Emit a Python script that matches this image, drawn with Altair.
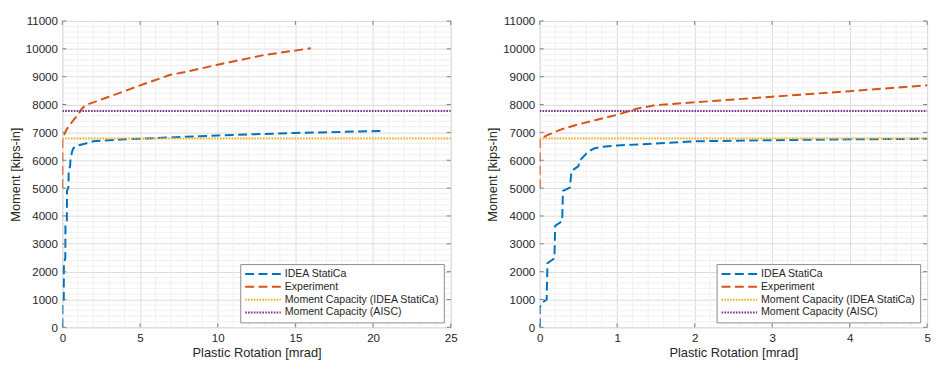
import altair as alt
import pandas as pd

series_names = ["IDEA StatiCa", "Experiment",
                "Moment Capacity (IDEA StatiCa)", "Moment Capacity (AISC)"]
series_colors = ["#0072BD", "#D95319", "#EDB120", "#7E2F8E"]

# IDEA StatiCa moment-rotation curve
idea_rot = [0, 0, 0.02, 0.06, 0.09, 0.10, 0.19, 0.20, 0.29, 0.30, 0.39, 0.41, 0.50, 0.52,
            0.59, 0.62, 0.70, 0.80, 1.0, 1.5, 2.0, 3.0, 4.0, 5.0, 7.0, 10.0, 15.0, 20.5]
idea_mom = [0, 700, 880, 940, 1000, 2300, 2480, 3650, 3810, 4900, 5020, 5610, 5790, 6000,
            6200, 6300, 6420, 6480, 6530, 6600, 6680, 6720, 6750, 6770, 6820, 6890, 6980, 7050]

# Experiment moment-rotation curve
exp_rot = [0, 0, 0.1, 0.27, 0.49, 0.74, 1.0, 1.25, 1.5, 2.0, 3.0, 4.0, 5.0, 6.0,
           6.9, 8.0, 10.0, 13.0, 16.0]
exp_mom = [5000, 6750, 6900, 7100, 7280, 7455, 7630, 7850, 7980, 8080, 8280, 8480, 8690,
           8880, 9060, 9180, 9430, 9780, 10020]

# Moment capacities
cap_idea = 6780
cap_aisc = 7770
cap_rot = [0, 25]

# Tick values
y_major = list(range(0, 11001, 1000))
y_minor = [v for v in range(0, 11001, 200) if v % 1000]
left_x_major = [0, 5, 10, 15, 20, 25]
left_x_minor = [v for v in range(0, 26) if v % 5]
right_x_major = [0, 1, 2, 3, 4, 5]
right_x_minor = [round(i * 0.2, 1) for i in range(26) if i % 5]

rows = []
k = 0
for r, m in zip(idea_rot, idea_mom):
    rows.append({"Series": series_names[0], "Rotation": r, "Moment": m, "idx": k}); k += 1
for r, m in zip(exp_rot, exp_mom):
    rows.append({"Series": series_names[1], "Rotation": r, "Moment": m, "idx": k}); k += 1
for r in cap_rot:
    rows.append({"Series": series_names[2], "Rotation": r, "Moment": cap_idea, "idx": k}); k += 1
for r in cap_rot:
    rows.append({"Series": series_names[3], "Rotation": r, "Moment": cap_aisc, "idx": k}); k += 1
df = pd.DataFrame(rows)

FONT = "Liberation Sans"
TXT = "#262626"
AX = "#808080"
MAJOR_GRID = "#dcdcdc"
MINOR_GRID = "#f0f0f0"
TICK = 4


def panel(xmax, x_major, x_minor, width, height, legend_x):
    xscale = alt.Scale(domain=[0, xmax], nice=False, zero=False)
    yscale = alt.Scale(domain=[0, 11000], nice=False, zero=False)
    common = dict(labelFont=FONT, labelFontSize=11.7, labelColor=TXT,
                  titleFont=FONT, titleFontSize=13, titleFontWeight="normal",
                  titleColor=TXT, labelOverlap=False, ticks=False, domain=False,
                  grid=True, gridColor=MAJOR_GRID, labelPadding=5, format="d")
    xaxis = alt.Axis(values=x_major, title="Plastic Rotation [mrad]",
                     labelFlush=False, titlePadding=3, **common)
    yaxis = alt.Axis(values=y_major, title="Moment [kips-in]", titlePadding=3, **common)
    legend = alt.Legend(title=None, orient="none", legendX=legend_x, legendY=246,
                        symbolType="stroke", symbolSize=1296, symbolStrokeWidth=2,
                        labelFont=FONT, labelFontSize=10.7, labelColor=TXT,
                        labelLimit=400, padding=4, rowPadding=1, clipHeight=12,
                        strokeColor="#8c8c8c", fillColor="white", labelOffset=3)

    xmin_df = pd.DataFrame({"v": x_minor})
    ymin_df = pd.DataFrame({"v": y_minor})
    ydf = pd.DataFrame({"v": y_major})
    xdf = pd.DataFrame({"v": x_major})

    xgrid = alt.Chart(xmin_df).mark_rule(color=MINOR_GRID, strokeWidth=1).encode(
        x=alt.X("v:Q", scale=xscale, axis=xaxis), y=alt.value(0), y2=alt.value(height))
    ygrid = alt.Chart(ymin_df).mark_rule(color=MINOR_GRID, strokeWidth=1).encode(
        y=alt.Y("v:Q", scale=yscale, axis=yaxis), x=alt.value(0), x2=alt.value(width))

    lines = alt.Chart(df).mark_line(strokeWidth=2, clip=True).encode(
        x=alt.X("Rotation:Q", scale=xscale, axis=xaxis),
        y=alt.Y("Moment:Q", scale=yscale, axis=yaxis),
        color=alt.Color("Series:N", scale=alt.Scale(domain=series_names, range=series_colors),
                        legend=legend),
        strokeDash=alt.StrokeDash("Series:N",
                                  scale=alt.Scale(domain=series_names,
                                                  range=[[9, 4.5], [9, 4.5], [1.6, 1.3], [1.6, 1.3]]),
                                  legend=legend),
        order="idx:Q",
    )
    yt_l = alt.Chart(ydf).mark_rule(color=AX, strokeWidth=1).encode(
        y=alt.Y("v:Q", scale=yscale, axis=yaxis), x=alt.value(0), x2=alt.value(TICK))
    yt_r = alt.Chart(ydf).mark_rule(color=AX, strokeWidth=1).encode(
        y=alt.Y("v:Q", scale=yscale, axis=yaxis), x=alt.value(width - TICK), x2=alt.value(width))
    xt_b = alt.Chart(xdf).mark_rule(color=AX, strokeWidth=1).encode(
        x=alt.X("v:Q", scale=xscale, axis=xaxis), y=alt.value(height - TICK), y2=alt.value(height))
    xt_t = alt.Chart(xdf).mark_rule(color=AX, strokeWidth=1).encode(
        x=alt.X("v:Q", scale=xscale, axis=xaxis), y=alt.value(0), y2=alt.value(TICK))
    return alt.layer(xgrid, ygrid, lines, yt_l, yt_r, xt_b, xt_t).properties(
        width=width, height=height)


left = panel(25, left_x_major, left_x_minor, 393, 310, 180)
right = panel(5, right_x_major, right_x_minor, 392, 310, 179)

chart = alt.hconcat(left, right, spacing=27).resolve_legend(
    color="independent", strokeDash="independent"
).properties(
    padding={"left": 0, "top": 5, "right": 5, "bottom": 5}
).configure_view(
    stroke=AX, strokeWidth=1
).configure_axis(
    labelFont=FONT, labelFontSize=11.7, labelColor=TXT,
    titleFont=FONT, titleFontSize=13, titleFontWeight="normal", titleColor=TXT,
).configure(background="white")

chart.save("out.html", embed_options={"renderer": "svg", "actions": False})
